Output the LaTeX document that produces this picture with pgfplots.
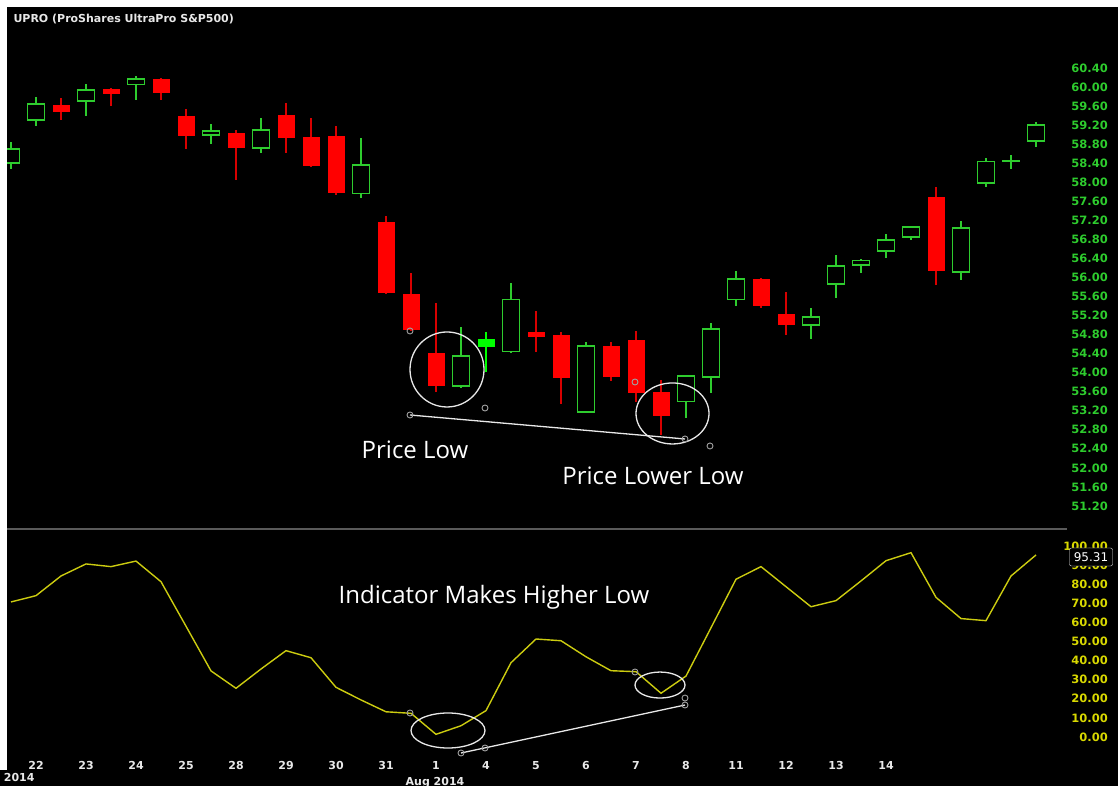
\documentclass[border=0pt]{standalone}
\usepackage{fontspec}
\setmainfont{DejaVu Sans}
\newfontfamily\annfont{Open Sans}
\usepackage{pgfplots}
\usepackage{pgfplotstable}
\pgfplotsset{compat=1.18}
\definecolor{cgreen}{HTML}{2ECC2E}
\definecolor{cred}{HTML}{FF0000}
\definecolor{cwick}{HTML}{D80000}
\definecolor{clime}{HTML}{00FF00}
\definecolor{cyel}{HTML}{CCCC10}
\definecolor{cylab}{HTML}{D8D800}
\definecolor{cann}{HTML}{E8E8E8}
\definecolor{cmark}{HTML}{A0A0A0}
\definecolor{csep}{HTML}{5A5A5A}
% candles: index, open, high, low, close
\pgfplotstableread{
i O H L C
0 58.40 58.85 58.28 58.70
1 59.31 59.79 59.18 59.64
3 59.71 60.06 59.39 59.94
5 60.06 60.23 59.73 60.17
8 58.99 59.22 58.80 59.08
10 58.72 59.35 58.61 59.10
14 57.77 58.93 57.67 58.36
18 53.72 54.96 53.68 54.35
20 54.45 55.88 54.41 55.53
23 53.17 54.64 53.15 54.56
27 53.40 53.95 53.05 53.93
28 53.91 55.04 53.57 54.92
29 55.53 56.14 55.40 55.97
32 55.00 55.36 54.71 55.17
33 55.86 56.47 55.57 56.24
34 56.26 56.39 56.09 56.35
35 56.56 56.91 56.41 56.79
36 56.85 57.07 56.79 57.06
38 56.11 57.19 55.95 57.04
39 57.98 58.51 57.90 58.43
40 58.45 58.57 58.28 58.45
41 58.87 59.27 58.74 59.20
}\uptab
\pgfplotstableread{
i O H L C
2 59.62 59.77 59.31 59.48
4 59.96 59.97 59.60 59.85
6 60.17 60.18 59.73 59.87
7 59.39 59.54 58.70 58.97
9 59.03 59.10 58.05 58.72
11 59.41 59.66 58.61 58.93
12 58.95 59.35 58.33 58.34
13 58.97 59.18 57.73 57.77
15 57.16 57.29 55.66 55.67
16 55.65 56.09 54.88 54.90
17 54.41 55.46 53.59 53.72
21 54.85 55.29 54.43 54.75
22 54.79 54.85 53.34 53.89
24 54.56 54.64 53.82 53.91
25 54.69 54.87 53.38 53.57
26 53.59 53.85 52.69 53.09
30 55.97 55.98 55.36 55.40
31 55.23 55.69 54.79 55.00
37 57.69 57.90 55.84 56.14
}\dntab
\pgfplotstableread{
i O H L C
19 54.54 54.85 54.01 54.71
}\lmtab
\pgfplotsset{
  wick/.style={only marks, mark=none, mark size=0pt, mark options={draw opacity=0, fill opacity=0},
    error bars/.cd, y dir=both, y explicit,
    error mark=none, error bar style={#1, line width=1.4pt}},
  body/.style 2 args={only marks, mark=none, mark size=0pt, mark options={draw opacity=0, fill opacity=0},
    error bars/.cd, y dir=both, y explicit,
    error mark=none, error bar style={#1, line width=#2}},
}
\begin{document}
\begin{tikzpicture}[x=1pt,y=1pt]
\useasboundingbox (0,0) rectangle (1118,786);
\clip (0,0) rectangle (1118,786);
\fill[black] (0,0) rectangle (1118,786);
\fill[white] (0,779) rectangle (1118,786);
\fill[white] (0,16) rectangle (7,786);
% ---------------- price panel ----------------
\begin{axis}[at={(7pt,258pt)}, anchor=south west, width=1060pt, height=498pt,
  scale only axis, xmin=-0.16, xmax=42.24, ymin=50.736, ymax=61.198,
  axis line style={draw=none}, xtick=\empty,
  ytick={51.2,51.6,52.0,52.4,52.8,53.2,53.6,54.0,54.4,54.8,55.2,55.6,56.0,56.4,56.8,57.2,57.6,58.0,58.4,58.8,59.2,59.6,60.0,60.4},
  yticklabel pos=right, major tick length=0pt,
  yticklabel style={anchor=east, inner sep=0pt, xshift=41pt, text=cgreen,
    font=\bfseries\fontsize{11.5}{12}\selectfont,
    /pgf/number format/fixed, /pgf/number format/fixed zerofill,
    /pgf/number format/precision=2, /pgf/number format/assume math mode=true}]
% wicks
\addplot[wick=cgreen] table[x=i, y expr={(\thisrow{H}+\thisrow{L})/2}, y error expr={(\thisrow{H}-\thisrow{L})/2}] {\uptab};
\addplot[wick=cwick] table[x=i, y expr={(\thisrow{H}+\thisrow{L})/2}, y error expr={(\thisrow{H}-\thisrow{L})/2}] {\dntab};
\addplot[wick=clime] table[x=i, y expr={(\thisrow{H}+\thisrow{L})/2}, y error expr={(\thisrow{H}-\thisrow{L})/2}] {\lmtab};
% bodies
\addplot[body={cred}{17pt}] table[x=i, y expr={(\thisrow{O}+\thisrow{C})/2}, y error expr={abs(\thisrow{O}-\thisrow{C})/2}] {\dntab};
\addplot[body={clime}{17pt}] table[x=i, y expr={(\thisrow{O}+\thisrow{C})/2}, y error expr={abs(\thisrow{O}-\thisrow{C})/2}] {\lmtab};
\addplot[body={cgreen}{18.4pt}] table[x=i, y expr={(\thisrow{O}+\thisrow{C})/2}, y error expr={abs(\thisrow{O}-\thisrow{C})/2+0.0147}] {\uptab};
\addplot[body={black}{15.6pt}] table[x=i, y expr={(\thisrow{O}+\thisrow{C})/2}, y error expr={max(abs(\thisrow{O}-\thisrow{C})/2-0.0147,0)}] {\uptab};
% annotations
\draw[cann, line width=1.3pt] (axis cs:17.44,54.066) ellipse [x radius=37pt, y radius=37.5pt];
\draw[cann, line width=1.3pt] (axis cs:26.46,53.142) ellipse [x radius=36.5pt, y radius=30.5pt];
\addplot[cann, line width=1.3pt, mark=none] coordinates {(15.96,53.11) (26.96,52.606)};
\addplot[only marks, mark=o, mark size=3pt, draw=cmark, line width=0.9pt] coordinates
  {(15.96,53.11) (26.96,52.606) (15.96,54.875) (18.96,53.257) (24.96,53.803) (27.96,52.459)};
\end{axis}
\draw[csep, line width=1.5pt] (7,257) -- (1067,257);
% ---------------- indicator panel ----------------
\begin{axis}[at={(7pt,29pt)}, anchor=south west, width=1060pt, height=226pt,
  scale only axis, xmin=-0.16, xmax=42.24, ymin=-10.47, ymax=107.85,
  axis line style={draw=none},
  xtick={1,3,5,7,9,11,13,15,17,19,21,23,25,27,29,31,33,35},
  xticklabels={22,23,24,25,28,29,30,31,1,4,5,6,7,8,11,12,13,14},
  xticklabel style={inner sep=0pt, yshift=-4pt, text=cann,
    font=\bfseries\fontsize{11}{12}\selectfont},
  ytick={0,10,20,30,40,50,60,70,80,90,100},
  yticklabel pos=right, major tick length=0pt,
  yticklabel style={anchor=east, inner sep=0pt, xshift=41pt, text=cylab,
    font=\bfseries\fontsize{11.5}{12}\selectfont,
    /pgf/number format/fixed, /pgf/number format/fixed zerofill,
    /pgf/number format/precision=2, /pgf/number format/assume math mode=true}]
\addplot[cyel, line width=1.4pt, mark=none] coordinates {
(0,70.7) (1,74.0) (2,84.3) (3,90.6) (4,89.2) (5,92.1) (6,81.3) (7,58.0)
(8,34.6) (9,25.5) (10,35.6) (11,45.2) (12,41.5) (13,26.0) (14,19.4) (15,13.2)
(16,12.4) (17,1.4) (18,5.9) (19,13.8) (20,38.9) (21,51.3) (22,50.4) (23,42.0)
(24,34.7) (25,34.2) (26,22.9) (27,31.9) (28,57.2) (29,82.6) (30,89.2) (31,78.7)
(32,68.2) (33,71.4) (34,81.7) (35,92.3) (36,96.5) (37,73.1) (38,62.0) (39,60.9)
(40,84.3) (41,95.31)};
\draw[cann, line width=1.3pt] (axis cs:17.48,3.40) ellipse [x radius=37pt, y radius=17.5pt];
\draw[cann, line width=1.3pt] (axis cs:25.96,27.2) ellipse [x radius=25pt, y radius=13pt];
\addplot[cann, line width=1.3pt, mark=none] coordinates {(18.0,-8.38) (26.96,16.75)};
\addplot[only marks, mark=o, mark size=3pt, draw=cmark, line width=0.9pt] coordinates
  {(18.0,-8.38) (18.96,-5.76) (15.96,12.57) (24.96,34.03) (26.96,20.4) (26.96,16.75)};
\end{axis}
% value box
\node[draw=cann, fill=black, rounded corners=2pt, text=white, inner sep=2pt,
  font=\fontsize{12}{13}\selectfont, minimum width=43pt, minimum height=18pt] at (1091,229) {95.31};
% texts
\node[anchor=west, text=cann, font=\bfseries\fontsize{11}{12}\selectfont] at (10,767) {UPRO (ProShares UltraPro S\&P500)};
\node[text=white, font=\annfont\fontsize{24}{28}\selectfont] at (415,336) {Price Low};
\node[text=white, font=\annfont\fontsize{24}{28}\selectfont] at (653,310) {Price Lower Low};
\node[text=white, font=\annfont\fontsize{24}{28}\selectfont] at (494,189) {Indicator Makes Higher Low};
\node[text=cann, font=\bfseries\fontsize{11}{12}\selectfont] at (435,3) {Aug 2014};
\node[anchor=east, text=cann, font=\bfseries\fontsize{11}{12}\selectfont] at (38,8) {Jul 2014};
\end{tikzpicture}
\end{document}
